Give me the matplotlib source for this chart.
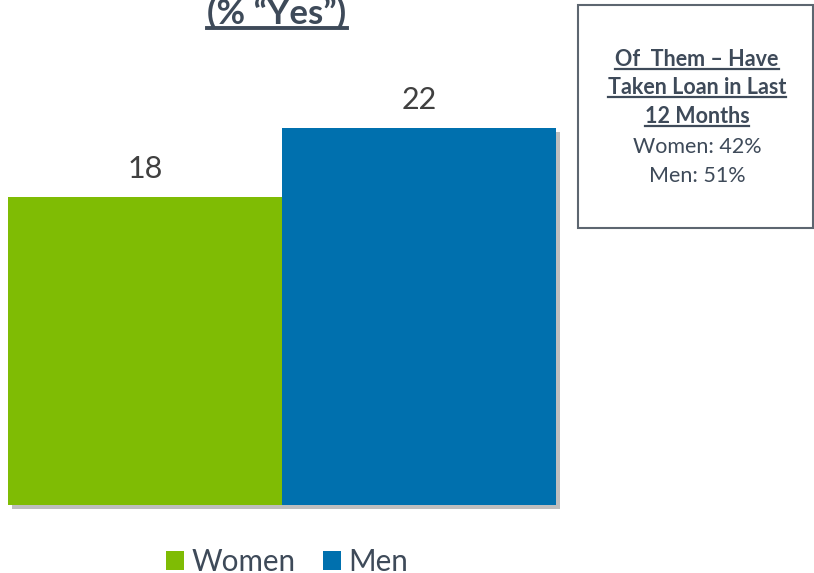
import matplotlib
matplotlib.use("Agg")
import matplotlib.pyplot as plt
import matplotlib.patheffects as pe
from matplotlib.patches import Rectangle, Patch
from matplotlib.lines import Line2D

groups = ["Women", "Men"]
values = [18, 22]
colors = ["#7fbc04", "#0070ae"]
title = "(% \u201cYes\u201d)"
box_head = ["Of  Them \u2013 Have", "Taken Loan in Last", "12 Months"]
box_body = ["Women: 42%", "Men: 51%"]

txt = "#3e4a59"
plt.rcParams["font.family"] = ["Lato", "DejaVu Sans"]

W, H = 814, 573
fig = plt.figure(figsize=(W / 100, H / 100), dpi=100)


def fx(px):
    return px / W


def fy(py):
    return 1 - py / H


# axes: bars from x=8..556 px, baseline at y=505 px
ax = fig.add_axes([fx(8), fy(505), fx(556 - 8), fy(76.6) - fy(505)])
bars = ax.bar(range(len(values)), values, width=1.0, color=colors, clip_on=False)
for b in bars:
    b.set_path_effects([pe.SimplePatchShadow(offset=(3, -3), shadow_rgbFace="#8a8a8a", alpha=0.55),
                        pe.Normal()])
for i, v in enumerate(values):
    ax.text(i, v + 0.8, str(v), ha="center", va="bottom", fontsize=22, color="#404040")
ax.set_xlim(-0.5, 1.5)
ax.set_ylim(0, 25)
ax.axis("off")

fig.canvas.draw()
r = fig.canvas.get_renderer()


def underlined(x, y, s, size, weight, lw):
    t = fig.text(fx(x), fy(y), s, ha="center", va="center", fontsize=size,
                 fontweight=weight, color=txt)
    bb = t.get_window_extent(renderer=r)
    ly = bb.y0 + 1
    fig.add_artist(Line2D([bb.x0 / W, bb.x1 / W], [ly / H, ly / H], color=txt, lw=lw))
    return t


# title (cut at the top of the image)
underlined(277, 13, title, 25, "bold", 2.8)

# side box
fig.add_artist(Rectangle((fx(578), fy(228)), fx(813 - 578), fy(5) - fy(228),
                         fill=False, edgecolor="#5d6670", lw=1.5, transform=fig.transFigure))
for k, s in enumerate(box_head):
    underlined(697, 59 + 28.7 * k, s, 15.5, "bold", 1.6)
for k, s in enumerate(box_body):
    fig.text(fx(697), fy(147 + 29 * k), s, ha="center", va="center", fontsize=15.5, color=txt)

handles = [Patch(facecolor=c, label=g) for g, c in zip(groups, colors)]
fig.legend(handles=handles, loc="center", bbox_to_anchor=(fx(287), fy(562)), ncol=2,
           frameon=False, fontsize=21.3, handlelength=0.61, handleheight=0.61,
           handletextpad=0.27, columnspacing=0.91, labelcolor=txt)

fig.savefig("out.png", dpi=100)
